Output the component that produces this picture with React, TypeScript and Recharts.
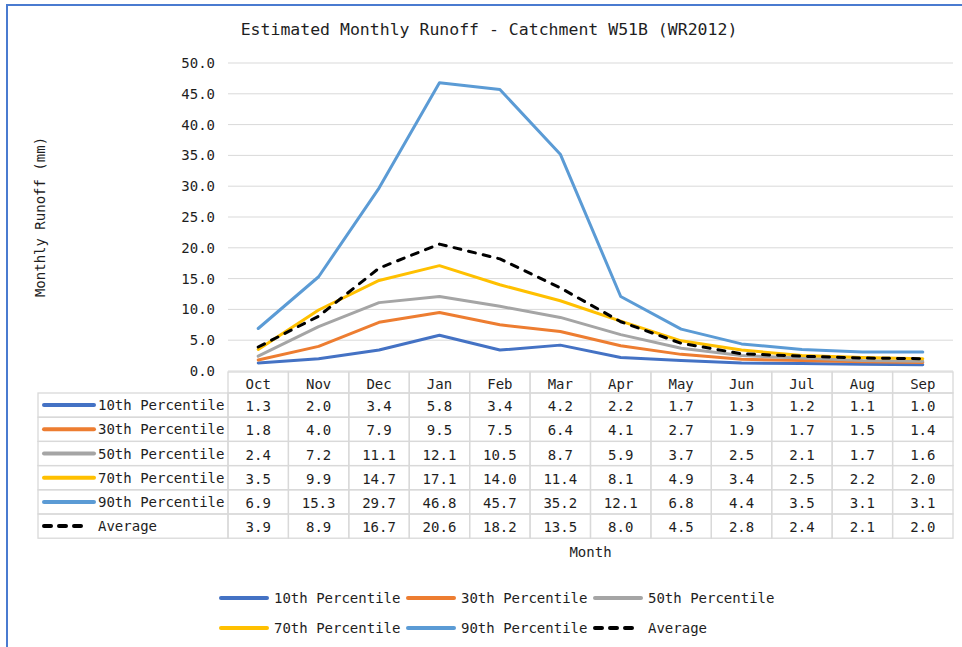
import React from 'react';
import { LineChart, Line, XAxis, YAxis, CartesianGrid, Legend } from 'recharts';

const months = ['Oct', 'Nov', 'Dec', 'Jan', 'Feb', 'Mar', 'Apr', 'May', 'Jun', 'Jul', 'Aug', 'Sep'];
const p10 = [1.3, 2.0, 3.4, 5.8, 3.4, 4.2, 2.2, 1.7, 1.3, 1.2, 1.1, 1.0];
const p30 = [1.8, 4.0, 7.9, 9.5, 7.5, 6.4, 4.1, 2.7, 1.9, 1.7, 1.5, 1.4];
const p50 = [2.4, 7.2, 11.1, 12.1, 10.5, 8.7, 5.9, 3.7, 2.5, 2.1, 1.7, 1.6];
const p70 = [3.5, 9.9, 14.7, 17.1, 14.0, 11.4, 8.1, 4.9, 3.4, 2.5, 2.2, 2.0];
const p90 = [6.9, 15.3, 29.7, 46.8, 45.7, 35.2, 12.1, 6.8, 4.4, 3.5, 3.1, 3.1];
const avg = [3.9, 8.9, 16.7, 20.6, 18.2, 13.5, 8.0, 4.5, 2.8, 2.4, 2.1, 2.0];
const yTicks = [0, 5, 10, 15, 20, 25, 30, 35, 40, 45, 50];

const series = [
  { key: 'p10', name: '10th Percentile', values: p10, color: '#4472C4' },
  { key: 'p30', name: '30th Percentile', values: p30, color: '#ED7D31' },
  { key: 'p50', name: '50th Percentile', values: p50, color: '#A5A5A5' },
  { key: 'p70', name: '70th Percentile', values: p70, color: '#FFC000' },
  { key: 'p90', name: '90th Percentile', values: p90, color: '#5B9BD5' },
  { key: 'avg', name: 'Average', values: avg, color: '#000000', dash: '7 8' },
];

const data = months.map((m, i) => {
  const row: any = { month: m };
  series.forEach((s) => (row[s.key] = s.values[i]));
  return row;
});

const FONT = "'DejaVu Sans Mono', 'Liberation Mono', monospace";
const TEXT = '#1e1e1e';
const GRID = '#D9D9D9';
const W = 962;
const H = 647;
const MARGIN = { top: 63, right: 9, bottom: 0, left: 0 };
const Y_AXIS_W = 228;
const COL_W = (W - MARGIN.left - MARGIN.right - Y_AXIS_W) / months.length;
const LABEL_LEFT = 38;
const HEAD_H = 21;
const ROW_H = 24.2;

function KeyLine({ color, dash, width, x, y }: any) {
  return (
    <line
      x1={x + 2}
      x2={x + width - 2}
      y1={y}
      y2={y}
      stroke={color}
      strokeWidth={4}
      strokeLinecap="round"
      strokeDasharray={dash}
    />
  );
}

function TableColumn(props: any) {
  const { x, y, index, payload } = props;
  const left = x - COL_W / 2;
  const top = y + 1;
  const parts: any[] = [];
  parts.push(
    <rect key="h" x={left} y={top} width={COL_W} height={HEAD_H} fill="none" stroke={GRID} strokeWidth={1.3} />
  );
  parts.push(
    <text key="ht" x={x} y={top + HEAD_H / 2 + 1} textAnchor="middle" dominantBaseline="central"
      fontFamily={FONT} fontSize={14} fill={TEXT}>
      {payload.value}
    </text>
  );
  series.forEach((s, r) => {
    const ry = top + HEAD_H + r * ROW_H;
    parts.push(
      <rect key={'c' + r} x={left} y={ry} width={COL_W} height={ROW_H} fill="none" stroke={GRID} strokeWidth={1.3} />
    );
    parts.push(
      <text key={'t' + r} x={x} y={ry + ROW_H / 2 + 1} textAnchor="middle" dominantBaseline="central"
        fontFamily={FONT} fontSize={14} fill={TEXT}>
        {s.values[index].toFixed(1)}
      </text>
    );
    if (index === 0) {
      parts.push(
        <rect key={'l' + r} x={LABEL_LEFT} y={ry} width={left - LABEL_LEFT} height={ROW_H} fill="none"
          stroke={GRID} strokeWidth={1.3} />
      );
      parts.push(
        <KeyLine key={'k' + r} x={LABEL_LEFT + 4} y={ry + ROW_H / 2} width={s.dash ? 48 : 54} color={s.color} dash={s.dash} />
      );
      parts.push(
        <text key={'n' + r} x={LABEL_LEFT + 60} y={ry + ROW_H / 2} dominantBaseline="central"
          fontFamily={FONT} fontSize={14} fill={TEXT}>
          {s.name}
        </text>
      );
    }
  });
  return <g>{parts}</g>;
}

function renderYLabel(p: any) {
  const vb = p.viewBox;
  const cx = vb.x + 40;
  const cy = vb.y + vb.height / 2;
  return (
    <text x={cx} y={cy} transform={`rotate(-90 ${cx} ${cy})`} textAnchor="middle" dominantBaseline="central"
      fontFamily={FONT} fontSize={14} fill={TEXT}>
      Monthly Runoff (mm)
    </text>
  );
}

function renderXLabel(p: any) {
  const vb = p.viewBox;
  return (
    <text x={vb.x + vb.width / 2} y={vb.y + 186} textAnchor="middle" fontFamily={FONT} fontSize={14} fill={TEXT}>
      Month
    </text>
  );
}

function LegendContent() {
  return (
    <div style={{ display: 'flex', flexWrap: 'wrap', width: 561, height: 60 }}>
      {series.map((s) => (
        <div key={s.key} style={{ width: 187, height: 30, display: 'flex', alignItems: 'center' }}>
          <svg width={50} height={8} style={{ display: 'block' }}>
            <KeyLine x={0} y={4} width={s.dash ? 48 : 50} color={s.color} dash={s.dash} />
          </svg>
          <span style={{ marginLeft: 5, fontFamily: FONT, fontSize: 14, color: TEXT, whiteSpace: 'nowrap' }}>
            {s.name}
          </span>
        </div>
      ))}
    </div>
  );
}

export default function App() {
  return (
    <div style={{ position: 'relative', width: W, height: H, background: '#fff', overflow: 'hidden' }}>
      <style>{'body{margin:0}'}</style>
      <div style={{ position: 'absolute', left: 6, top: 4, right: -4, bottom: -4, borderTop: '2px solid #4a7bd0', borderLeft: '2px solid #4a7bd0' }} />
      <div style={{ position: 'absolute', left: 0, top: 20, width: 978, textAlign: 'center', fontFamily: FONT, fontSize: 16.5, lineHeight: '20px', color: TEXT }}>
        Estimated Monthly Runoff - Catchment W51B (WR2012)
      </div>
      <LineChart width={W} height={H} data={data} margin={MARGIN}>
        <CartesianGrid vertical={false} stroke={GRID} strokeWidth={1} />
        <XAxis
          dataKey="month"
          height={216}
          padding={{ left: COL_W / 2, right: COL_W / 2 }}
          interval={0}
          axisLine={false}
          tickLine={false}
          tickSize={0}
          tickMargin={0}
          tick={TableColumn}
          label={renderXLabel}
        />
        <YAxis
          width={Y_AXIS_W}
          domain={[0, 50]}
          ticks={yTicks}
          tickFormatter={(v: number) => v.toFixed(1)}
          axisLine={false}
          tickLine={false}
          tickSize={0}
          tickMargin={13}
          tick={{ fontFamily: FONT, fontSize: 14, fill: TEXT }}
          label={renderYLabel}
        />
        <Legend
          verticalAlign="bottom"
          content={LegendContent}
          wrapperStyle={{ position: 'absolute', left: 219, top: 583, width: 561, height: 60 }}
        />
        {series.map((s) => (
          <Line
            key={s.key}
            type="linear"
            dataKey={s.key}
            name={s.name}
            stroke={s.color}
            strokeWidth={3}
            strokeDasharray={s.dash}
            strokeLinecap="round"
            strokeLinejoin="round"
            dot={false}
            activeDot={false}
            isAnimationActive={false}
          />
        ))}
      </LineChart>
    </div>
  );
}
